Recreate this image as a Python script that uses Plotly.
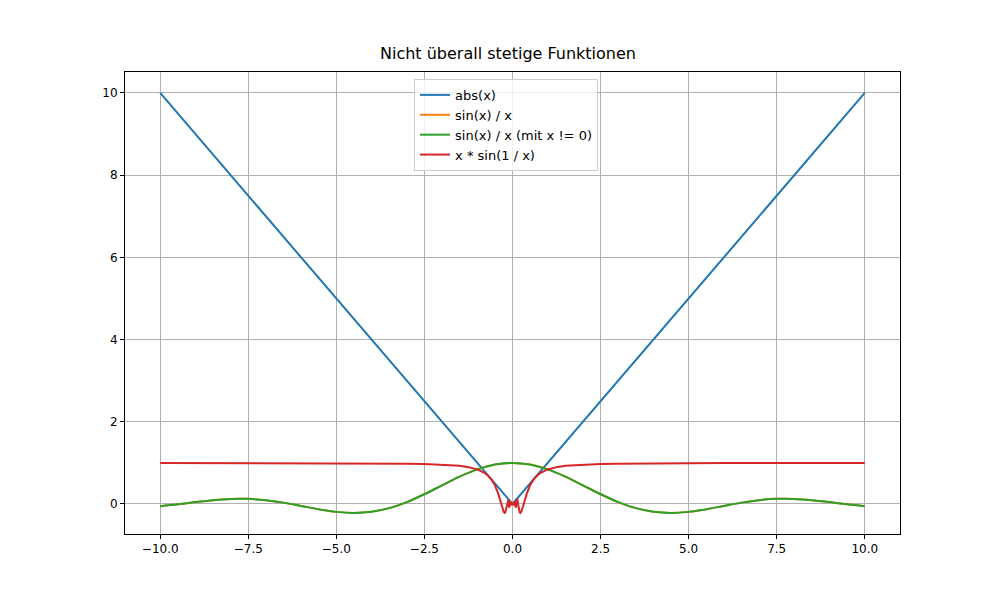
import plotly.graph_objects as go

# abs(x)
abs_x = [-10, 0, 10]
abs_y = [10, 0, 10]

# sin(x)/x, positive half (even function)
sinc_xp = [0, 0.5, 1, 1.5, 2, 2.5, 3, 3.5, 4, 4.5, 5, 5.5, 6, 6.5, 7, 7.5, 8, 8.5, 9, 9.5, 10]
sinc_yp = [1, 0.9589, 0.8415, 0.6650, 0.4546, 0.2394, 0.0470, -0.1002, -0.1892, -0.2172,
           -0.1918, -0.1283, -0.0466, 0.0331, 0.0939, 0.1250, 0.1237, 0.0939, 0.0458, -0.0079, -0.0544]

# x*sin(1/x), positive half (even function)
xs_xp = [0.02, 0.03, 0.04, 0.05, 0.06, 0.07, 0.08, 0.09, 0.1, 0.12, 0.14, 0.16, 0.18, 0.2, 0.22,
         0.25, 0.3, 0.35, 0.4, 0.5, 0.6, 0.7, 0.8, 1, 1.25, 1.5, 2, 2.5, 3, 4, 5, 6, 8, 10]
xs_yp = [-0.005, 0.028, -0.005, 0.046, -0.049, 0.069, -0.005, -0.089, -0.054, 0.106, 0.106, -0.0053,
         -0.1194, -0.1918, -0.2169, -0.1892, -0.057, 0.0982, 0.2394, 0.4546, 0.5972, 0.6929, 0.7592,
         0.8415, 0.8967, 0.9276, 0.9589, 0.9735, 0.9816, 0.9896, 0.9933, 0.9954, 0.9974, 0.998]

sinc_x = [-v for v in sinc_xp[::-1]] + sinc_xp[1:]
sinc_y = sinc_yp[::-1] + sinc_yp[1:]
xs_x = [-v for v in xs_xp[::-1]] + xs_xp
xs_y = xs_yp[::-1] + xs_yp

fig = go.Figure()
fig.add_trace(go.Scatter(x=abs_x, y=abs_y, mode='lines', name='abs(x)',
                         line=dict(color='#1f77b4', width=2)))
fig.add_trace(go.Scatter(x=sinc_x, y=sinc_y, mode='lines', name='sin(x) / x',
                         line=dict(color='#ff7f0e', width=2, shape='spline')))
fig.add_trace(go.Scatter(x=sinc_x, y=sinc_y, mode='lines', name='sin(x) / x (mit x != 0)',
                         line=dict(color='#2ca02c', width=2, shape='spline')))
fig.add_trace(go.Scatter(x=xs_x, y=xs_y, mode='lines', name='x * sin(1 / x)',
                         line=dict(color='#d62728', width=2)))

axis = dict(showgrid=True, gridcolor='#b0b0b0', gridwidth=1, zeroline=False,
            showline=True, mirror=True, linecolor='black', linewidth=1,
            ticks='outside', ticklen=4, tickcolor='black',
            tickfont=dict(size=12, color='black'))

fig.update_layout(
    width=1000, height=600,
    paper_bgcolor='white', plot_bgcolor='white',
    font=dict(family='DejaVu Sans', color='black'),
    title=dict(text='Nicht überall stetige Funktionen', x=0.5, xanchor='center',
               y=0.915, yanchor='bottom', font=dict(size=16)),
    margin=dict(l=117, r=108, t=64, b=74),
    xaxis=dict(axis, range=[-11, 11], tickvals=[-10, -7.5, -5, -2.5, 0, 2.5, 5, 7.5, 10],
               ticktext=['−10.0', '−7.5', '−5.0', '−2.5', '0.0', '2.5', '5.0', '7.5', '10.0']),
    yaxis=dict(axis, range=[-0.73, 10.51], tickvals=[0, 2, 4, 6, 8, 10]),
    legend=dict(x=0.373, y=0.985, xanchor='left', yanchor='top', bgcolor='rgba(255,255,255,0.8)',
                bordercolor='#cccccc', borderwidth=1, font=dict(size=13), tracegroupgap=0),
    showlegend=True,
)

fig.write_html("out.html")
